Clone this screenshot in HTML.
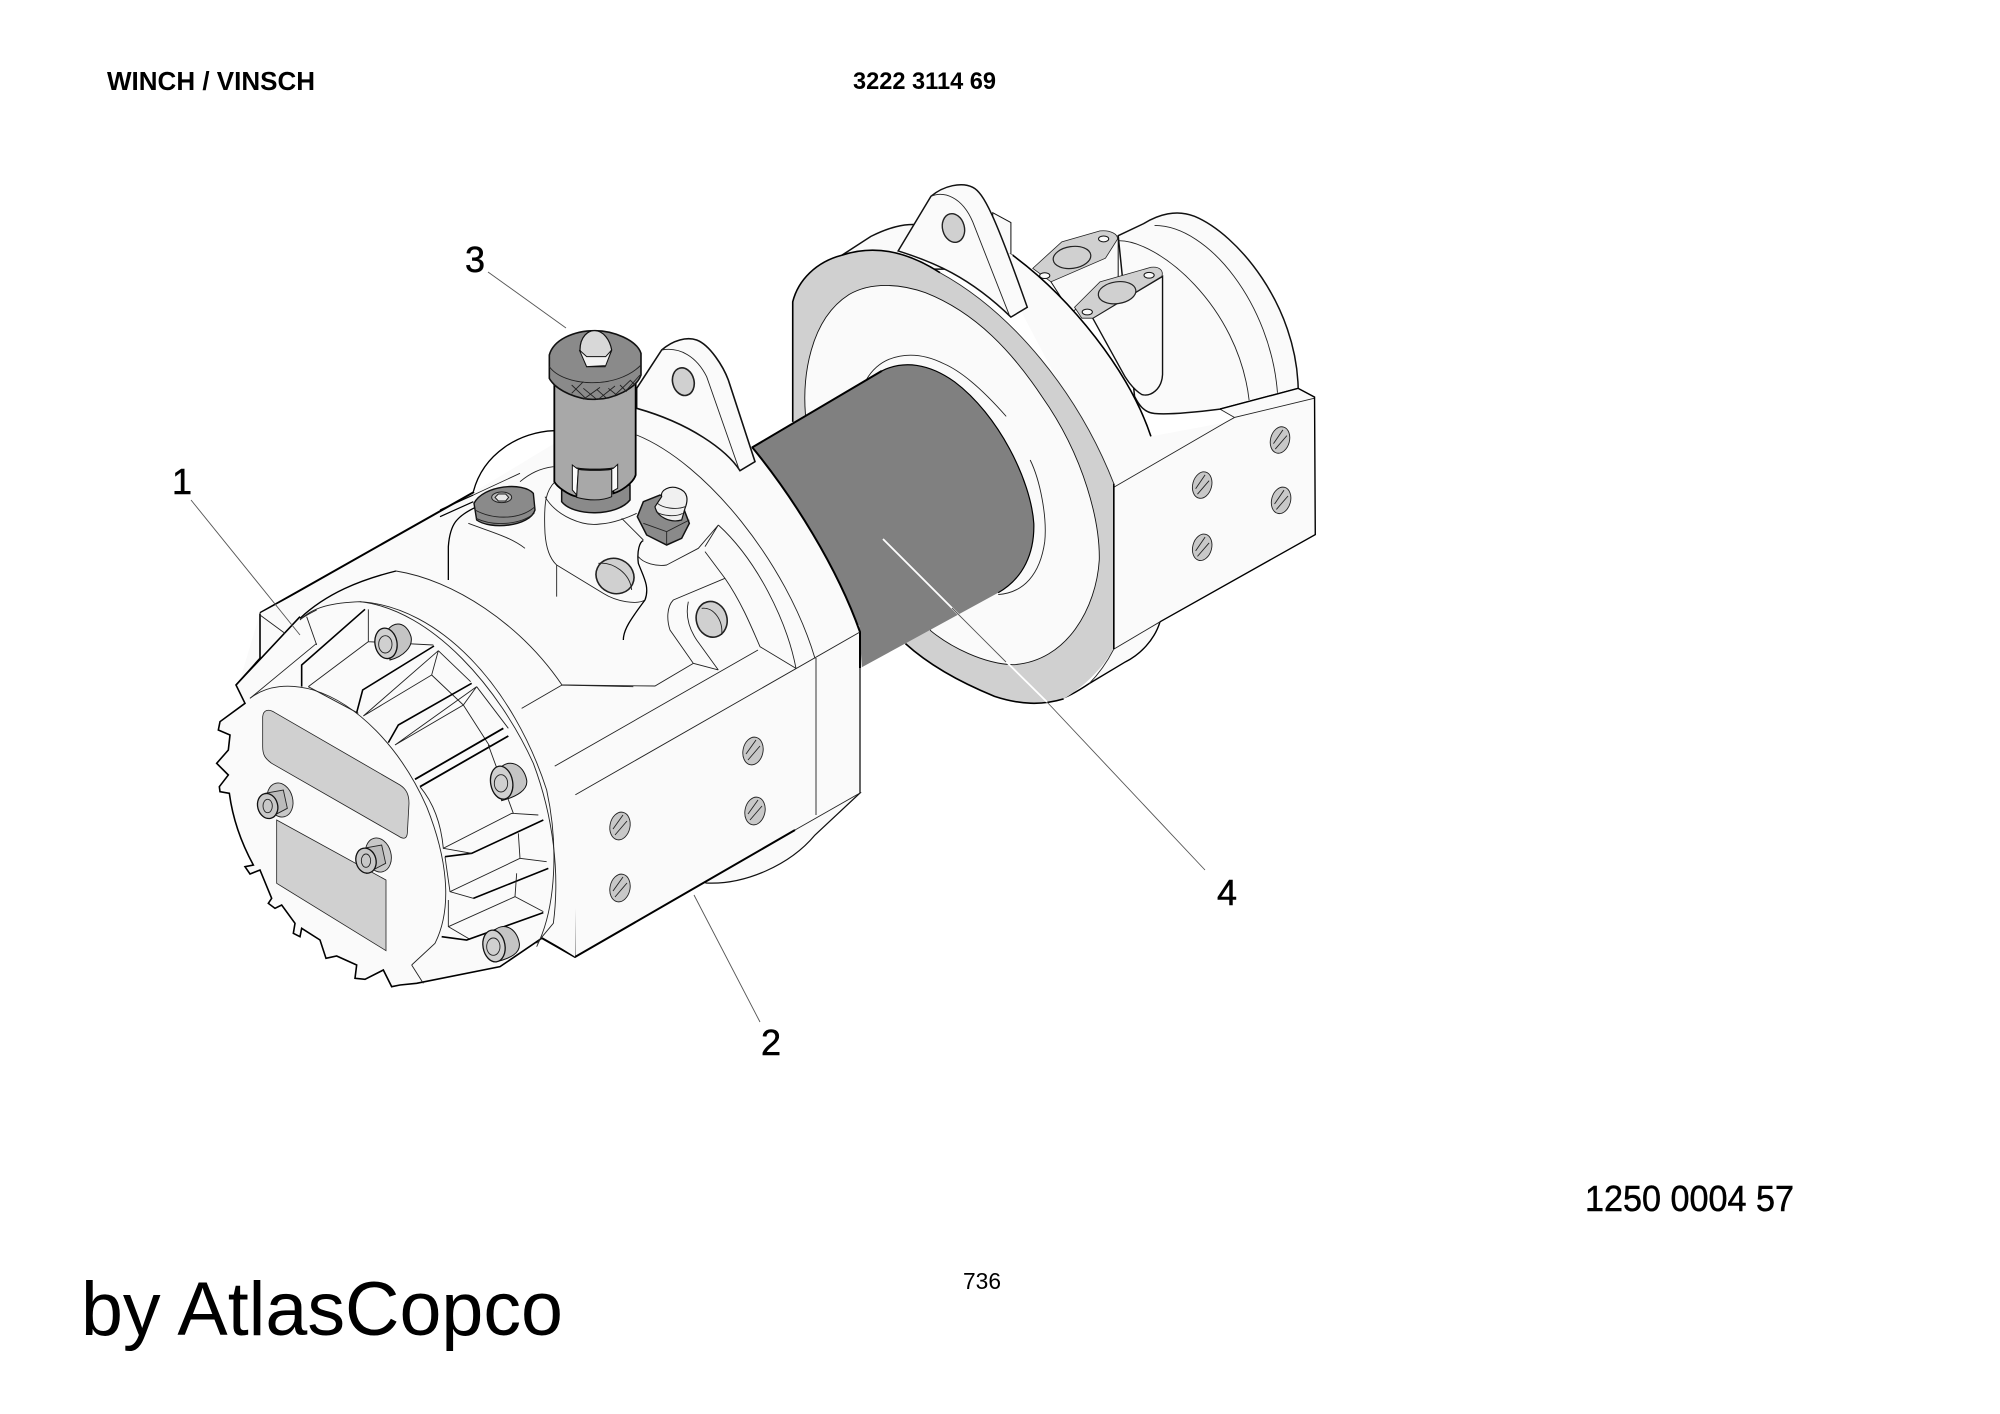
<!DOCTYPE html>
<html><head><meta charset="utf-8"><style>
html,body{margin:0;padding:0;background:#fff}
svg{display:block}
svg *{vector-effect:non-scaling-stroke}
text{font-family:"Liberation Sans",sans-serif;fill:#000}
.w{fill:#fafafa;stroke:#111;stroke-width:1}
.n{fill:none;stroke:#222;stroke-width:.9}
.t{fill:none;stroke:#000;stroke-width:2}
.f{fill:#fafafa;stroke:none}
.g{fill:#d0d0d0;stroke:#222;stroke-width:.8}
.m{fill:#a8a8a8;stroke:#000;stroke-width:1.4}
.d{fill:#8a8a8a;stroke:#111;stroke-width:1}
.l{fill:none;stroke:#555;stroke-width:.9}
.h{fill:#c8c8c8;stroke:#222;stroke-width:.9}
</style></head><body>
<svg width="2000" height="1414" viewBox="0 0 2000 1414" xmlns="http://www.w3.org/2000/svg">
<rect width="2000" height="1414" fill="#fff"/>
<text x="107" y="90" font-size="26" font-weight="bold" textLength="208" lengthAdjust="spacingAndGlyphs">WINCH / VINSCH</text>
<text x="853" y="89" font-size="24" font-weight="bold" textLength="143" lengthAdjust="spacingAndGlyphs">3222 3114 69</text>
<text x="1585" y="1211" font-size="36" textLength="209" lengthAdjust="spacingAndGlyphs" stroke="#000" stroke-width=".5">1250 0004 57</text>
<text x="963" y="1289" font-size="23" textLength="38" lengthAdjust="spacingAndGlyphs">736</text>
<text x="81" y="1335" font-size="76" textLength="482" lengthAdjust="spacingAndGlyphs">by AtlasCopco</text>
<text x="172" y="494" font-size="36" stroke="#000" stroke-width=".5">1</text>
<text x="761" y="1055" font-size="36" stroke="#000" stroke-width=".5">2</text>
<text x="465" y="272" font-size="36" stroke="#000" stroke-width=".5">3</text>
<text x="1217" y="905" font-size="36" stroke="#000" stroke-width=".5">4</text>

<!-- rear assembly -->
<g transform="translate(780,160) scale(.36364)">
<path class="w" style="stroke-width:1.5" d="M930,208 L1000,175 C1040,150 1090,135 1140,155 C1260,205 1420,400 1425,628 L1210,685 C1130,695 1060,700 1030,697 C1000,695 985,670 975,650Z"/>
<path class="n" d="M930,222 C1040,220 1260,400 1290,660 M1030,180 C1180,180 1350,400 1368,640"/>
<path class="w" d="M585,145 L635,172 L635,270 L585,270Z"/>
<path class="w" style="stroke-width:1.5" d="M170,262 L250,210 C300,185 340,175 380,178 L640,262 L600,300 L170,300Z"/>
<!-- gaskets -->
<path class="w" d="M745,335 L930,215 L930,330 L800,420Z"/>
<path class="g" d="M695,298 L775,225 L880,195 C910,192 930,205 928,218 L895,270 L745,335Z"/>
<ellipse class="g" cx="803" cy="268" rx="52" ry="30" transform="rotate(-8 803 268)" style="stroke-width:1.2"/>
<ellipse class="w" cx="890" cy="217" rx="14" ry="8"/><ellipse class="w" cx="728" cy="318" rx="14" ry="8"/>
<path class="w" style="stroke-width:1.4" d="M860,435 L1052,320 L1052,590 C1050,630 1020,652 995,645 C970,630 950,600 940,580Z"/>
<path class="g" d="M810,405 L880,335 L1020,295 C1045,292 1055,305 1050,320 L860,435 L830,435Z"/>
<ellipse class="g" cx="927" cy="365" rx="52" ry="30" transform="rotate(-8 927 365)" style="stroke-width:1.2"/>
<ellipse class="w" cx="1015" cy="317" rx="14" ry="8"/><ellipse class="w" cx="845" cy="418" rx="14" ry="8"/>
<!-- body rear, block -->
<path class="f" d="M560,220 L640,262 C800,380 960,580 1020,760 L1225,722 L1250,708 L1210,685 L1425,628 L1470,652 L1472,1030 L1045,1270 C1030,1320 990,1360 920,1400 L918,900Z"/>
<path class="t" style="stroke-width:1.6" d="M640,262 C800,380 960,580 1020,760"/>
<path class="n" d="M918,900 L1225,722 L1250,708 L1470,655 M1210,685 L1250,708"/>
<path class="t" style="stroke-width:1.4" d="M1425,628 L1470,652 L1472,1030 L1045,1270 M1210,685 L1425,628"/>
<path class="f" d="M918,1340 L1045,1270 C1030,1320 990,1360 920,1395 L850,1445Z"/>
<path class="t" style="stroke-width:1.4" d="M1045,1270 C1030,1320 990,1360 950,1380 L850,1440 C820,1460 790,1478 770,1482"/>
<path class="n" d="M918,1345 L1045,1270"/>
<!-- threaded holes -->
<g><ellipse class="h" cx="1375" cy="770" rx="26" ry="37" transform="rotate(15 1375 770)"/><ellipse class="h" cx="1378" cy="936" rx="26" ry="37" transform="rotate(15 1378 936)"/><ellipse class="h" cx="1161" cy="894" rx="26" ry="37" transform="rotate(15 1161 894)"/><ellipse class="h" cx="1161" cy="1065" rx="26" ry="37" transform="rotate(15 1161 1065)"/>
<path class="n" d="M1357,780 L1383,742 M1362,795 L1394,758 M1360,946 L1386,908 M1365,961 L1397,924 M1143,904 L1169,866 M1148,919 L1180,882 M1143,1075 L1169,1037 M1148,1090 L1180,1053"/></g>
<!-- flange -->
<path d="M35,390 C50,330 100,280 170,262 C250,235 340,245 440,310 C640,420 820,640 918,890 L918,1340 C900,1380 850,1440 780,1482 C720,1500 660,1498 590,1475 C480,1430 400,1380 345,1330 L35,720Z" fill="#d0d0d0" stroke="none"/>
<path class="t" style="stroke-width:1.6" d="M35,720 L35,390 C50,330 100,280 170,262 C250,235 340,245 440,310"/>
<path class="n" d="M440,310 C640,420 820,640 918,890"/>
<path class="t" style="stroke-width:1.6" d="M345,1330 C400,1380 480,1430 590,1475 C660,1498 720,1500 780,1482"/>
<path class="t" style="stroke-width:1.6" d="M918,890 L918,1345"/>
<path class="n" d="M918,1345 C900,1380 880,1410 850,1440"/>
<path class="w" style="stroke-width:.9" d="M70,700 C62,600 80,440 190,370 C250,335 330,340 400,365 C540,420 640,530 720,650 C840,820 880,1000 878,1100 C870,1230 790,1380 640,1388 C560,1385 470,1340 415,1295Z"/>
<!-- bearing ring -->
<path class="n" d="M237,605 C280,530 370,520 450,560 C520,590 600,680 622,705 M688,825 C715,880 735,980 728,1050 C715,1140 670,1190 600,1195"/>
<!-- lug -->
<path class="w" style="stroke-width:1.5" d="M325,250 L415,100 C450,70 500,60 530,75 C560,90 590,150 680,405 L635,432 C520,320 420,280 325,250Z"/>
<path class="n" d="M415,100 C450,85 500,100 530,170 L630,425"/>
<ellipse class="g" cx="477" cy="187" rx="30" ry="40" transform="rotate(-15 477 187)" style="stroke-width:1.4"/>
<!-- drum -->
<path d="M-130,822 L280,580 C340,550 410,560 480,610 C600,700 690,880 698,1000 C700,1080 670,1150 600,1190 L225,1395 L218,1280 L-130,1000Z" fill="#808080"/>
<path class="t" d="M-130,822 L280,580"/>
<path class="t" style="stroke-width:1.2" d="M280,580 C340,550 410,560 480,610 C600,700 690,880 698,1000 C700,1080 670,1150 600,1190"/>
</g>

<!-- leader 4 -->
<path class="l" d="M1047,702 L1205,870"/>
<path d="M883,539 L955,611 L1047,702" stroke="#fff" stroke-width="1.8" fill="none"/>
<path class="l" d="M952,608 L1006,662"/>

<!-- main body -->
<path class="w" style="stroke-width:1.2" d="M706,883 C745,885 790,865 815,835 L860,793 L800,800 L690,870Z"/>
<path class="f" d="M260,613 L474,492 L560,440 L637,408 L752,447 C793,497 837,567 860,632 L860,793 L795,830 L575,957 L540,937 L417,975 L300,900 L240,760 L240,680Z"/>
<path class="t" d="M752,447 C793,497 837,567 860,632 L860,668"/>
<path class="t" style="stroke-width:1.2" d="M860,632 L860,793"/>
<path class="t" d="M260,613 L474,492"/>
<path class="t" d="M540,937 L575,957 L795,830"/>
<path class="n" d="M795,830 L860,793 M575,795 L575,957 M575,795 L860,632 M548,770 L758,650 M816,658 L816,815"/>
<!-- front block holes -->
<g>
<ellipse class="h" cx="620" cy="826" rx="10" ry="14" transform="rotate(12 620 826)"/>
<ellipse class="h" cx="620" cy="888" rx="10" ry="14" transform="rotate(12 620 888)"/>
<ellipse class="h" cx="753" cy="751" rx="10" ry="14" transform="rotate(12 753 751)"/>
<ellipse class="h" cx="755" cy="811" rx="10" ry="14" transform="rotate(12 755 811)"/>
<path class="n" d="M613,829 L623,815 M615,835 L627,821 M613,891 L623,877 M615,897 L627,883 M746,754 L756,740 M748,760 L760,746 M748,814 L758,800 M750,820 L762,806"/>
</g>

<!-- top section -->
<g transform="translate(440,300) scale(.33333)">
<path class="t" style="stroke-width:1.3" d="M25,840 L25,740 C30,670 50,650 110,620"/>
<path class="t" style="stroke-width:1.3" d="M100,575 C130,460 240,395 342,392"/>
<path class="n" d="M340,500 C300,505 270,520 240,545 M100,585 L240,520 M85,670 C150,695 210,710 255,745"/>
<path class="t" style="stroke-width:1.2" d="M0,630 L100,585 M0,650 L100,605"/>
<path class="n" d="M590,405 C800,490 1040,790 1125,1075 M835,675 C950,780 1040,960 1068,1105 M590,325 C800,390 870,450 900,512"/>
<path class="n" d="M345,545 C320,570 310,600 315,700 C320,770 345,790 350,795 L350,890 M350,795 L490,880 C530,905 590,915 615,900"/>
<path class="t" style="stroke-width:1.3" d="M615,900 C630,860 610,830 595,790 C590,750 600,725 610,722 M615,900 C570,960 550,990 550,1020"/>
<path class="n" d="M595,770 C610,790 650,800 680,795 L775,745 L835,675 L795,740 M315,590 C350,650 430,680 480,672 C520,670 570,650 590,640 M545,655 L610,720"/>
<path class="n" d="M855,835 L700,900 C680,920 680,960 690,990 L760,1090 L835,1110 M745,905 C735,950 750,990 770,1020 L835,1110 M795,755 L855,835 C900,900 930,970 960,1040 L1068,1105 M365,1155 L645,1158 L760,1090"/>
<ellipse class="g" cx="525" cy="828" rx="58" ry="52" transform="rotate(25 525 828)" style="stroke-width:1.6"/>
<path class="n" d="M475,790 C520,785 570,820 575,870"/>
<ellipse class="g" cx="815" cy="958" rx="46" ry="54" transform="rotate(-15 815 958)" style="stroke-width:1.6"/>
<path class="n" d="M785,925 C820,920 850,960 845,1005"/>
<!-- lug -->
<path class="w" style="stroke-width:1.6" d="M590,265 L665,150 C700,120 740,110 770,120 C810,135 850,200 865,240 L945,485 L900,512 C860,450 750,370 590,325Z"/>
<path class="n" d="M665,150 C720,140 770,170 800,230 L898,510"/>
<ellipse class="g" cx="730" cy="245" rx="32" ry="42" transform="rotate(-15 730 245)" style="stroke-width:1.6"/>
<!-- cap screw -->
<path class="d" style="stroke-width:1.4" d="M102,610 L110,660 C150,690 270,680 285,630 L280,580 C250,545 130,555 102,610Z"/>
<path class="n" d="M105,630 C160,660 240,660 285,620 M108,655 C160,680 240,675 283,640"/>
<ellipse cx="185" cy="592" rx="30" ry="16" fill="#b8b8b8" stroke="#222"/>
<path d="M165,592 L175,582 L197,582 L206,592 L197,603 L175,603Z" fill="#e8e8e8" stroke="#222"/>
<!-- knob -->
<path class="d" style="stroke-width:1.5" d="M365,560 L365,605 C400,650 530,650 570,600 L570,555Z"/>
<path class="m" style="stroke-width:1.8" d="M343,250 L343,545 C350,560 385,585 410,590 L410,505 C440,510 490,510 520,505 L520,580 C540,575 580,550 587,525 L587,250Z"/>
<path d="M397,495 L397,570 L410,585 L415,505 C440,512 490,512 515,505 L515,575 L533,565 L533,493 L520,505 C490,510 440,510 410,505Z" fill="#fafafa" stroke="#111"/>
<path fill="#a8a8a8" stroke="#111" d="M415,508 C440,512 490,512 515,508 L515,590 C480,605 440,600 410,592Z"/>
<path class="d" style="stroke-width:1.6" d="M328,165 L328,235 C350,275 420,300 465,298 C520,298 590,265 603,225 L603,160 C590,120 520,92 465,92 C400,92 340,120 328,165Z"/>
<path class="n" d="M328,200 C370,260 530,270 603,195"/>
<path class="n" style="stroke:#222" d="M395,255 L440,298 M430,265 L470,298 M470,268 L500,295 M505,265 L530,285 M540,255 L560,275 M570,240 L585,255 M395,280 L430,245 M430,298 L480,262 M475,298 L525,258 M520,290 L570,242 M560,270 L600,225"/>
<path d="M420,150 C420,110 445,90 465,92 C490,92 510,120 515,150 L495,200 L440,200Z" fill="#d8d8d8" stroke="#111" stroke-width="1.2"/>
<path d="M418,150 L440,170 L497,170 L515,150 L497,197 L440,200Z" fill="#f2f2f2" stroke="#111"/>
<!-- nipple -->
<path class="d" style="stroke-width:1.5" d="M592,650 L610,605 L660,585 L725,610 L748,670 L725,715 L680,735 L620,705Z"/>
<path class="n" d="M610,670 L680,695 L748,660 M680,695 L680,735"/>
<path d="M645,620 L665,590 C660,570 690,555 715,565 C745,575 745,600 735,625 L725,660 C690,670 650,650 645,620Z" fill="#f0f0f0" stroke="#111" stroke-width="1.2"/>
<path class="n" d="M652,610 C670,625 710,630 735,620 M648,635 C670,650 710,650 728,640"/>
</g>

<!-- front disc -->
<g transform="translate(200,590) scale(.33333)">
<path class="f" d="M180,70 L310,0 L480,-10 L700,50 L900,300 L1130,620 L1125,1100 L1030,1040 L900,1130 L650,1180 L600,1185 L575,1190 L550,1140 L495,1168 L465,1165 L470,1125 L410,1098 L378,1105 L360,1050 L305,1015 L300,1040 L280,1030 L285,1000 L245,945 L225,955 L205,940 L215,925 L180,840 L150,852 L135,830 L160,825 C130,770 100,700 88,610 L58,590 L85,555 L50,520 L85,480 L90,435 L55,420 L60,395 L135,340 L108,285 L180,205Z"/>
<path class="t" style="stroke-width:1.6" d="M180,205 L108,285 L135,340 L60,395 L55,420 L90,435 L85,480 L50,520 L85,555 L58,590 L60,605 L88,610 C100,700 130,770 160,825 L135,830 L150,852 L180,840 L215,925 L205,940 L225,955 L245,945 L285,1000 L280,1030 L300,1040 L305,1015 L360,1050 L378,1105 L410,1098 L470,1125 L465,1165 L495,1168 L550,1140 L575,1190 L600,1185 L650,1180 L900,1130 L1025,1045"/>
<path class="t" style="stroke-width:1.6" d="M180,70 L180,205 M108,285 L300,80"/>
<path class="n" d="M180,75 L255,130 M150,325 L350,160 M320,80 L350,165 M300,90 C340,50 400,38 480,35 C700,60 900,300 1000,520 C1060,680 1080,850 1060,1000 L1010,1060 M350,60 C330,70 310,80 300,90"/>
<path class="n" d="M588,-57 C760,-30 960,100 1086,285 L965,355 M1086,285 L1300,290"/>
<path class="t" style="stroke-width:1.4" d="M588,-57 C480,-30 380,10 300,85"/>
<path class="n" d="M480,35 C720,50 940,290 1040,600 C1075,760 1070,950 1010,1070"/>
<!-- face -->
<path class="n" d="M150,325 C200,285 270,280 340,300 C470,340 600,470 680,650 C740,800 760,950 705,1060 L635,1125 M635,1125 L670,1180"/>
<path class="t" style="stroke-width:1.6" d="M305,290 L305,225 L495,58"/>
<path class="n" d="M325,290 L505,155 M505,58 L505,155 L700,165 M325,290 L475,370"/>
<path class="t" style="stroke-width:1.6" d="M470,368 L488,300 L702,168"/>
<path class="n" d="M490,378 L715,182 M715,182 L695,255 L490,378 M715,182 L812,275 M695,255 L790,345"/>
<path class="t" style="stroke-width:1.6" d="M565,458 L595,405 L815,280"/>
<path class="n" d="M585,465 L830,290 L790,345 L585,465 M830,290 L925,415 M790,345 L870,470"/>
<path class="t" style="stroke-width:1.8" d="M645,568 L910,415 M660,590 L925,438"/>
<path class="n" d="M660,590 C710,650 725,720 730,775 L935,670 L1015,675 M865,465 L940,670"/>
<path class="t" style="stroke-width:1.6" d="M735,800 L815,790 L1030,690"/>
<path class="n" d="M730,775 L815,790 M735,800 L750,905 L820,925 M955,730 L960,805 L1040,815 M750,905 L960,805"/>
<path class="t" style="stroke-width:1.6" d="M820,925 L1045,835"/>
<path class="n" d="M745,930 L745,1010 L810,1048 M745,1010 L945,920 L1030,965 M950,850 L945,920"/>
<path class="t" style="stroke-width:1.6" d="M725,1040 L800,1050 L1030,968"/>
<!-- plates -->
<path class="g" d="M188,380 C190,360 205,355 225,368 L600,585 C620,598 627,615 627,640 L622,730 C620,748 610,748 595,738 L215,520 C195,505 188,495 188,470Z"/>
<path class="g" d="M230,690 L558,870 L558,1082 L230,880Z"/>
<!-- flanged bolts -->
<g><ellipse class="h" cx="240" cy="630" rx="38" ry="52" transform="rotate(-15 240 630)"/><path class="h" style="fill:#bbb" d="M195,610 L250,600 L262,655 L205,685 Z"/><ellipse cx="203" cy="648" rx="30" ry="38" fill="#c8c8c8" stroke="#111" stroke-width="1.3" transform="rotate(-15 203 648)"/><ellipse class="n" cx="203" cy="648" rx="14" ry="20"/></g>
<g><ellipse class="h" cx="535" cy="795" rx="38" ry="52" transform="rotate(-15 535 795)"/><path class="h" style="fill:#bbb" d="M490,775 L545,765 L557,820 L500,850 Z"/><ellipse cx="498" cy="812" rx="30" ry="38" fill="#c8c8c8" stroke="#111" stroke-width="1.3" transform="rotate(-15 498 812)"/><ellipse class="n" cx="498" cy="812" rx="14" ry="20"/></g>
<!-- socket bolts -->
<g><path fill="#c4c4c4" stroke="#111" d="M560,125 C580,90 620,95 633,140 C640,170 610,200 570,210Z"/><ellipse cx="558" cy="160" rx="33" ry="46" fill="#d0d0d0" stroke="#111" stroke-width="1.3" transform="rotate(-10 558 160)"/><ellipse class="n" cx="556" cy="163" rx="20" ry="26"/></g>
<g><path fill="#c4c4c4" stroke="#111" d="M900,535 C925,505 970,520 980,570 C985,600 950,620 905,632Z"/><ellipse cx="905" cy="578" rx="33" ry="50" fill="#d0d0d0" stroke="#111" stroke-width="1.3" transform="rotate(-10 905 578)"/><ellipse class="n" cx="903" cy="580" rx="20" ry="26"/></g>
<g><path fill="#c4c4c4" stroke="#111" d="M880,1025 C905,995 950,1010 958,1060 C962,1090 930,1105 890,1115Z"/><ellipse cx="882" cy="1068" rx="33" ry="48" fill="#d0d0d0" stroke="#111" stroke-width="1.3" transform="rotate(-10 882 1068)"/><ellipse class="n" cx="880" cy="1070" rx="20" ry="26"/></g>
</g>

<!-- leaders -->
<path class="l" d="M191,500 L300,635"/>
<path class="l" d="M694,895 L760,1022"/>
<path class="l" d="M488,272 L566,328"/>
</svg>
</body></html>
